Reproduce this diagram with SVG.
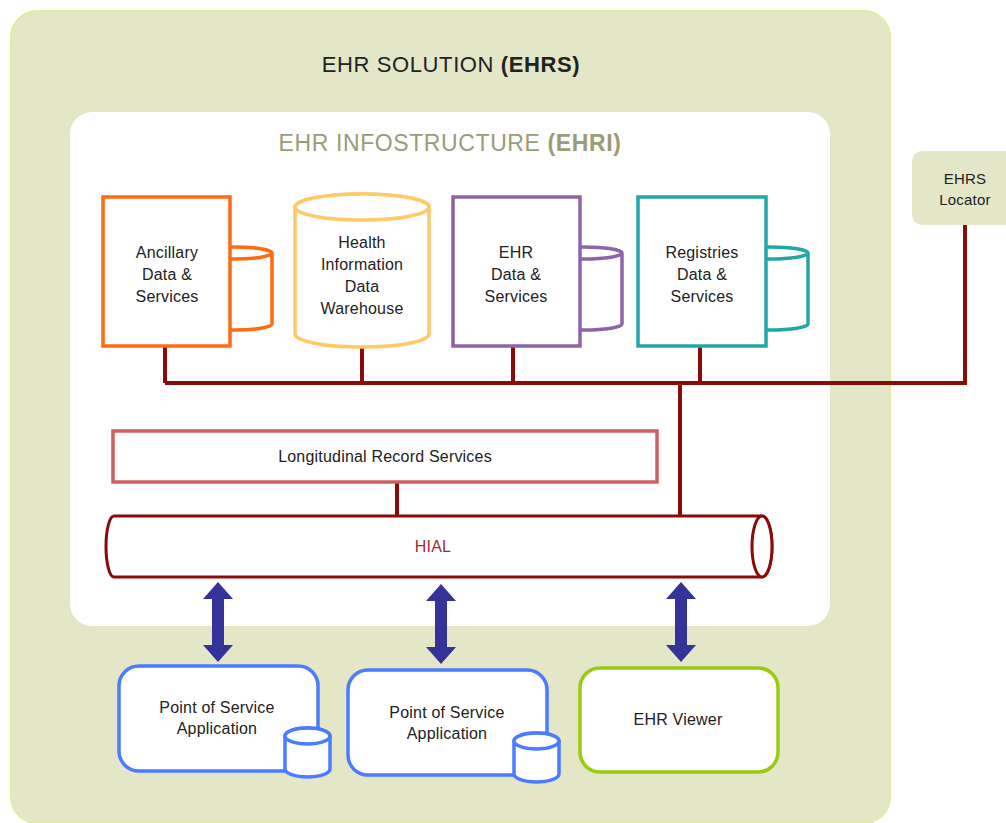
<svg xmlns="http://www.w3.org/2000/svg" width="1006" height="823" viewBox="0 0 1006 823">
  <style>
    text { font-family: "Liberation Sans", Arial, sans-serif; fill: #222; }
    .title { font-size: 22px; text-anchor: middle; letter-spacing: 0.6px; }
    .lbl { font-size: 16px; text-anchor: middle; letter-spacing: 0.2px; }
    .bus { stroke: #8b0a0a; stroke-width: 4; fill: none; }
    .store { fill: #fff; stroke-width: 3.5; }
    .app { fill: #fff; stroke-width: 3.5; }
  </style>
  <defs>
    <!-- double-headed arrow centred on x=0 -->
    <polygon id="dblArrow" fill="#333399" points="0,0 15,17 6,17 6,63 15,63 0,80 -15,63 -6,63 -6,17 -15,17"/>
    <!-- small database cylinder, origin at top-left -->
    <g id="db">
      <path d="M0,9 L0,42 A22.5,8 0 0 0 45,42 L45,9 A22.5,8 0 0 0 0,9 Z" fill="#fff" stroke="#4a7cff" stroke-width="3.5"/>
      <ellipse cx="22.5" cy="9" rx="22.5" ry="8" fill="#fff" stroke="#4a7cff" stroke-width="3.5"/>
    </g>
  </defs>

  <!-- EHR solution container -->
  <g id="ehrs">
    <rect x="11" y="11" width="879" height="812" rx="26" fill="#e4e7c7" stroke="#e4eba0" stroke-width="2"/>
    <text class="title" x="451" y="72">EHR SOLUTION <tspan font-weight="bold">(EHRS)</tspan></text>
  </g>

  <!-- EHR infostructure container -->
  <g id="ehri">
    <rect x="70" y="112" width="760" height="514" rx="22" fill="#fefefe"/>
    <text class="title" x="450" y="151" style="fill:#9a9c78;font-size:23px">EHR INFOSTRUCTURE <tspan font-weight="bold">(EHRI)</tspan></text>
  </g>

  <!-- locator outside the solution -->
  <g id="locator">
    <rect x="912" y="151" width="110" height="74" rx="10" fill="#e4e7c7"/>
    <text class="lbl" x="965" y="184" style="font-size:15px">EHRS</text>
    <text class="lbl" x="965" y="205" style="font-size:15px">Locator</text>
  </g>

  <!-- connectors -->
  <g id="connectors">
    <path class="bus" d="M165,346 V383 M362,347 V383 M513,346 V383 M700,346 V383 M965,225 V383 H165 M680,383 V516 M397,482 V516"/>
    <use href="#dblArrow" x="218" y="582"/>
    <use href="#dblArrow" x="441" y="584"/>
    <use href="#dblArrow" x="681" y="582"/>
  </g>

  <!-- ancillary -->
  <g id="ancillary">
    <path class="store" stroke="#ff6a13" d="M196,253 L196,324 A38,6 0 0 0 272,324 L272,253 A38,6 0 0 0 196,253 Z M196,253 A38,6 0 0 0 272,253"/>
    <rect class="store" stroke="#ff6a13" x="103" y="197" width="127" height="149"/>
    <text class="lbl" x="167" y="258">Ancillary</text>
    <text class="lbl" x="167" y="280">Data &amp;</text>
    <text class="lbl" x="167" y="302">Services</text>
  </g>

  <!-- warehouse -->
  <g id="warehouse">
    <path class="store" stroke="#ffc966" d="M295,207 L295,334 A67,13 0 0 0 429,334 L429,207 A67,13 0 0 0 295,207 Z"/>
    <ellipse cx="362" cy="207" rx="67" ry="13" fill="#fff" stroke="#ffc966" stroke-width="3.5"/>
    <text class="lbl" x="362" y="248">Health</text>
    <text class="lbl" x="362" y="270">Information</text>
    <text class="lbl" x="362" y="292">Data</text>
    <text class="lbl" x="362" y="314">Warehouse</text>
  </g>

  <!-- EHR data -->
  <g id="ehrdata">
    <path class="store" stroke="#8e63a8" d="M546,253 L546,324 A38,6 0 0 0 622,324 L622,253 A38,6 0 0 0 546,253 Z M546,253 A38,6 0 0 0 622,253"/>
    <rect class="store" stroke="#8e63a8" x="453" y="197" width="127" height="149"/>
    <text class="lbl" x="516" y="258">EHR</text>
    <text class="lbl" x="516" y="280">Data &amp;</text>
    <text class="lbl" x="516" y="302">Services</text>
  </g>

  <!-- registries -->
  <g id="registries">
    <path class="store" stroke="#23a6a6" d="M732,253 L732,324 A38,6 0 0 0 808,324 L808,253 A38,6 0 0 0 732,253 Z M732,253 A38,6 0 0 0 808,253"/>
    <rect class="store" stroke="#23a6a6" x="638" y="197" width="128" height="149"/>
    <text class="lbl" x="702" y="258">Registries</text>
    <text class="lbl" x="702" y="280">Data &amp;</text>
    <text class="lbl" x="702" y="302">Services</text>
  </g>

  <!-- longitudinal record services -->
  <g id="lrs">
    <rect x="113" y="431" width="544" height="51" fill="#fff" stroke="#d06060" stroke-width="3.5"/>
    <text class="lbl" x="385" y="462">Longitudinal Record Services</text>
  </g>

  <!-- HIAL bus -->
  <g id="hial">
    <path d="M114,516 L762,516 A10,30.5 0 0 1 762,577 L114,577 A8,30.5 0 0 1 114,516 Z" fill="#fff" stroke="#8b0a0a" stroke-width="3"/>
    <ellipse cx="762" cy="546.5" rx="10" ry="30.5" fill="#fff" stroke="#8b0a0a" stroke-width="3"/>
    <text class="lbl" x="433" y="552" style="fill:#a52a2a">HIAL</text>
  </g>

  <!-- point of service 1 -->
  <g id="pos1">
    <rect class="app" stroke="#4a7cff" x="119" y="666" width="199" height="105" rx="20"/>
    <use href="#db" x="285" y="727"/>
    <text class="lbl" x="217" y="713">Point of Service</text>
    <text class="lbl" x="217" y="734">Application</text>
  </g>

  <!-- point of service 2 -->
  <g id="pos2">
    <rect class="app" stroke="#4a7cff" x="348" y="670" width="199" height="105" rx="20"/>
    <use href="#db" x="514" y="732"/>
    <text class="lbl" x="447" y="718">Point of Service</text>
    <text class="lbl" x="447" y="739">Application</text>
  </g>

  <!-- viewer -->
  <g id="viewer">
    <rect class="app" stroke="#99cc11" x="580" y="668" width="198" height="104" rx="20"/>
    <text class="lbl" x="678" y="725">EHR Viewer</text>
  </g>
</svg>
